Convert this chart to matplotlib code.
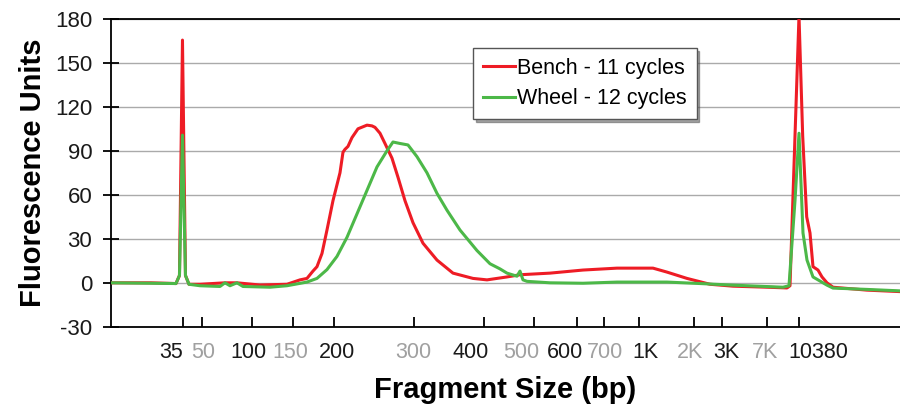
import matplotlib
matplotlib.use("Agg")
import matplotlib.pyplot as plt

plt.rcParams['font.family'] = ['Liberation Sans', 'DejaVu Sans']
plt.rcParams['axes.unicode_minus'] = False

# Electropherogram traces: migration position (arbitrary units) vs fluorescence
bench_pos = [0, 40, 65, 68.5, 71.5, 74.5, 78, 89, 114, 126, 149, 176, 189, 196,
             202, 206, 211, 216, 222, 229, 232, 234, 237, 241, 247, 256, 261, 264,
             269, 274, 281, 287, 294, 302, 312, 326, 342, 362, 376, 396, 409, 439,
             472, 506, 542, 556, 576, 599, 622, 656, 676, 679, 684, 688, 691.7,
             695.7, 699, 702, 707, 711, 716, 722, 756, 789]
bench_fu = [0, 0, -0.5, 5, 165.5, 5, -1, -1, 0, 0, -1.5, -1, 2, 3, 8, 11, 20, 36,
            56, 75, 89, 91, 93, 99, 105, 107.5, 107, 106, 102, 95, 85, 72, 56, 41,
            27, 15.5, 6.6, 3, 2, 4, 5.5, 6.6, 8.7, 10, 10, 7.3, 3, -1, -2.3, -3,
            -3.5, -2, 100, 182, 100, 45, 34, 11, 8.7, 4, 0, -3, -5, -6]

wheel_pos = [0, 65, 68.5, 71.5, 74.5, 78, 89, 109, 114, 119, 126, 132, 159, 176,
             196, 206, 216, 226, 236, 246, 256, 266, 276, 282, 289, 297, 306, 316,
             326, 336, 349, 366, 379, 389, 396, 406, 409, 412, 416, 439, 472, 506,
             556, 589, 622, 672, 678, 684, 688, 692, 696, 702, 716, 722, 756, 789]
wheel_fu = [0, -0.5, 5, 100.7, 5, -1, -2, -2.5, 0, -2, 0, -2.5, -3, -2, 0.5, 3, 9,
            18, 31, 47, 63, 79, 90, 96, 95, 94, 86, 75, 61, 49.5, 36, 22, 13, 9.5,
            6.6, 4.5, 8, 2, 1, 0, -0.3, 0.5, 0.5, -0.5, -1.6, -3, -2, 56, 102, 34,
            15.5, 4, -1.6, -3.6, -4.5, -5.5]

# Ladder sizes: tick mark positions and where the size labels sit
ladder_pos = [71.7, 91.3, 140.7, 181.7, 223, 303.3, 373.3, 423, 465.7, 493.3,
              528.3, 583.3, 611.3, 655.7, 688]
label_pos = [60, 92.5, 137.5, 179, 226.5, 302, 359.5, 410, 454.5, 494, 534, 579,
             615.7, 654, 707]
size_labels = ['35', '50', '100', '150', '200', '300', '400', '500', '600', '700',
               '1K', '2K', '3K', '7K', '10380']

y_ticks = [-30, 0, 30, 60, 90, 120, 150, 180]

fig = plt.figure(figsize=(9, 4.08), dpi=100)
ax = fig.add_axes([0.1233, 0.199, 0.8767, 0.7549])

ax.plot(bench_pos, bench_fu, color='#ee1c25', lw=2.2, label='Bench - 11 cycles', zorder=3)
ax.plot(wheel_pos, wheel_fu, color='#4cb848', lw=2.2, label='Wheel - 12 cycles', zorder=4)

ax.set_xlim(0, 789)
ax.set_ylim(-30, 180)
ax.set_yticks(y_ticks)
ax.yaxis.grid(True, color='#aaaaaa', lw=1)
ax.set_axisbelow(True)

ax.set_xticks(ladder_pos, [''] * len(ladder_pos))
ax.set_xticks(label_pos, size_labels, minor=True)
ax.tick_params(axis='x', which='major', direction='in', length=7, width=1.3, color='black')
ax.tick_params(axis='x', which='minor', length=0, pad=11, labelsize=15.5)
for i, lab in enumerate(ax.get_xticklabels(minor=True)):
    lab.set_color('#1a1a1a' if i % 2 == 0 else '#a0a0a0')

ax.tick_params(axis='y', direction='inout', length=11, width=1.3, pad=8,
               labelsize=16, labelcolor='#1a1a1a')

for side in ['left', 'bottom', 'top']:
    ax.spines[side].set_color('black')
    ax.spines[side].set_linewidth(1.3)
ax.spines['right'].set_visible(False)

ax.set_ylabel('Fluorescence Units', fontsize=21, fontweight='bold', labelpad=6)
ax.set_xlabel('Fragment Size (bp)', fontsize=21, fontweight='bold', labelpad=9)

leg = ax.legend(loc='upper left', bbox_to_anchor=(0.459, 0.905), fontsize=15.5,
                frameon=True, fancybox=False, shadow=True, handlelength=1.5,
                handletextpad=0.1, borderpad=0.45, labelspacing=0.45,
                edgecolor='#555555', borderaxespad=0)
leg.get_frame().set_linewidth(1)

fig.savefig('out.png', dpi=100)
